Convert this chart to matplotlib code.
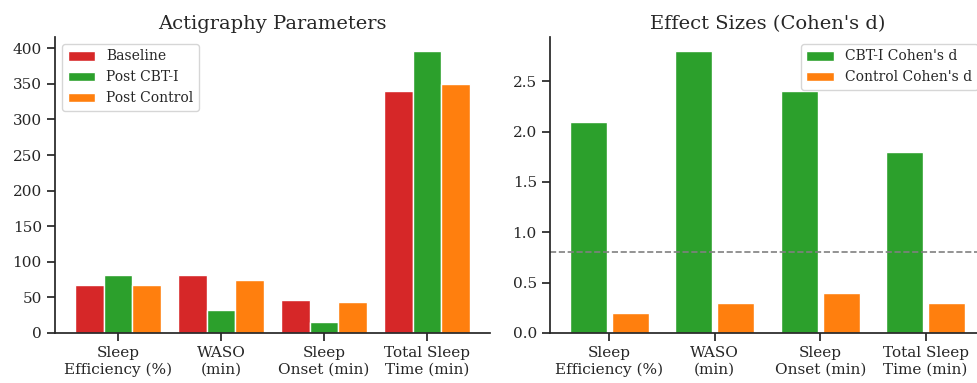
import numpy as np
import matplotlib.pyplot as plt
import seaborn as sns

sns.set_theme(style='ticks', context='notebook')
plt.rcParams['font.family'] = 'DejaVu Serif'

categories = ['Sleep\nEfficiency (%)', 'WASO\n(min)', 'Sleep\nOnset (min)', 'Total Sleep\nTime (min)']
baseline = [67, 81, 46, 340]
post_cbti = [82, 33, 16, 396]
post_control = [68, 74, 43, 350]

cbti_d = [2.1, 2.8, 2.4, 1.8]
control_d = [0.2, 0.3, 0.4, 0.3]
threshold = 0.8

red = '#d62728'
green = '#2ca02c'
orange = '#ff7f0e'

fig = plt.figure(figsize=(9.77, 3.83), dpi=100)
ax1 = fig.add_axes([55/977, 1-333/383, 435/977, 296/383])
ax2 = fig.add_axes([550/977, 1-333/383, 435/977, 296/383])

x = np.arange(len(categories))
w = 0.28
ax1.bar(x - w, baseline, w, color=red, edgecolor='white', label='Baseline')
ax1.bar(x, post_cbti, w, color=green, edgecolor='white', label='Post CBT-I')
ax1.bar(x + w, post_control, w, color=orange, edgecolor='white', label='Post Control')
ax1.set_xticks(x)
ax1.set_xticklabels(categories)
ax1.set_title('Actigraphy Parameters', fontsize=14)
ax1.legend(loc='upper left', fontsize=10)

w2 = 0.35
ax2.bar(x - 0.2, cbti_d, w2, color=green, edgecolor='white', label="CBT-I Cohen's d")
ax2.bar(x + 0.2, control_d, w2, color=orange, edgecolor='white', label="Control Cohen's d")
ax2.axhline(threshold, color='gray', linestyle='--', linewidth=1.2)
ax2.set_xticks(x)
ax2.set_xticklabels(categories)
ax2.set_title("Effect Sizes (Cohen's d)", fontsize=14)
ax2.legend(loc='upper right', fontsize=10)

sns.despine(fig=fig)
for ax in (ax1, ax2):
    ax.tick_params(labelsize=11)

fig.savefig('out.png', dpi=100)
